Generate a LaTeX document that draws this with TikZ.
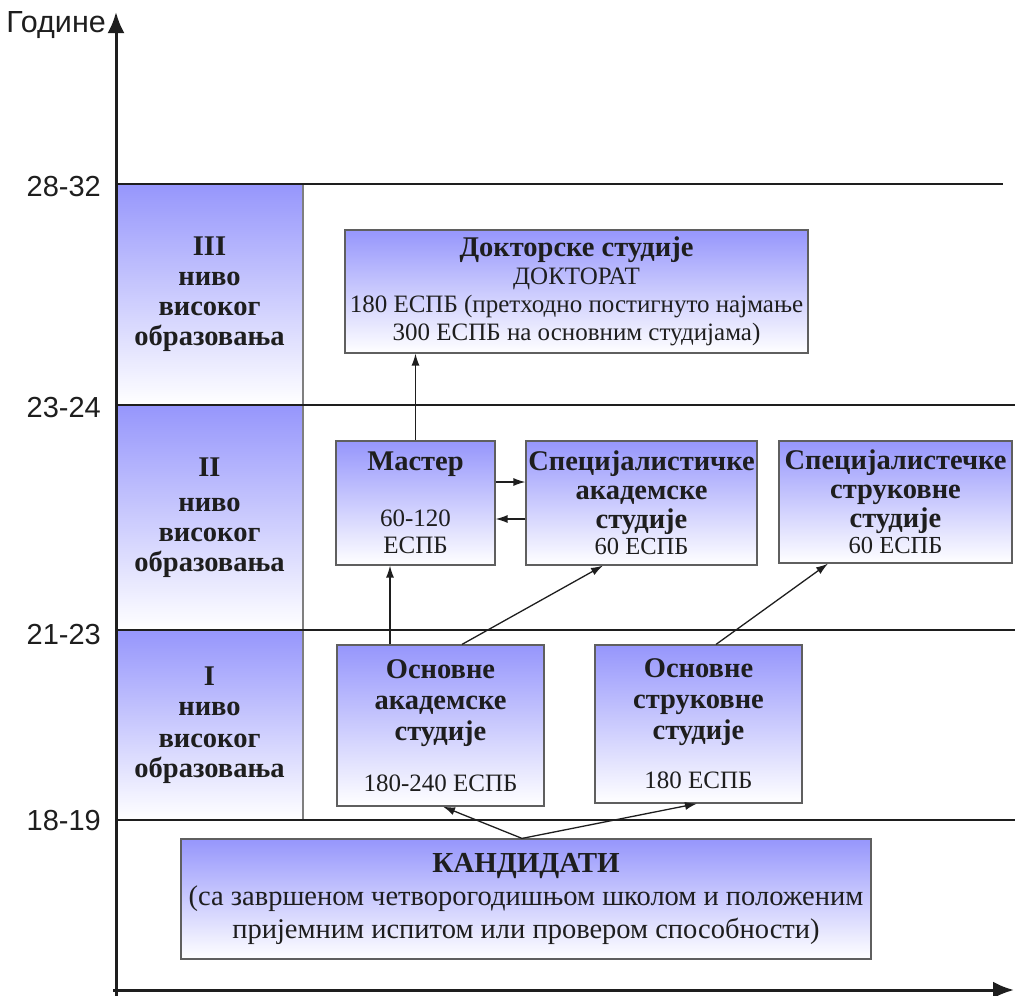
\documentclass[tikz,border=0pt]{standalone}
\usepackage{fontspec}
\setmainfont{Liberation Serif}
\newfontfamily\lsans{Liberation Sans}
\usetikzlibrary{arrows.meta,calc}
\definecolor{topblue}{RGB}{150,150,252}
\definecolor{ink}{RGB}{30,30,30}
\definecolor{edge}{RGB}{95,95,95}
\newcommand\hb[1]{{\fontsize{28.5}{28}\selectfont\bfseries #1}}
\newcommand\fz[2]{\fontsize{#1}{#2}\selectfont\lineskiplimit=-60pt\relax}
\tikzset{
  grad/.style={draw=edge, line width=1.2pt, top color=topblue, bottom color=white, inner sep=0pt, align=center, text=ink},
  lvl/.style={grad, draw=edge!80, minimum width=187pt, font=\fz{28.5}{30}\bfseries},
  sbox/.style={grad},
  arr/.style={-{Latex[length=12pt,width=8pt]}, line width=1.3pt, draw=ink},
  axis/.style={-{Latex[length=21pt,width=17pt]}, line width=3pt, draw=ink},
  hline/.style={line width=2pt, draw=ink},
  agelab/.style={font=\lsans\fontsize{29}{30}\selectfont, text=ink, inner sep=0pt}
}
\begin{document}
\begin{tikzpicture}[x=1pt,y=-1pt]
\useasboundingbox (0,0) rectangle (1015,996);
% level boxes
\node[lvl, minimum height=221pt] (l3) at (209.5,294.5) {III\\ниво\\високог\\образовања};
\node[lvl, minimum height=225pt] (l2) at (209.5,517.5) {II\\[5pt]ниво\\високог\\образовања};
\node[lvl, minimum height=190pt] (l1) at (209.5,725) {I\\ниво\\[2pt]високог\\образовања};
% horizontal lines
\draw[hline] (116,184) -- (1003,184);
\draw[hline] (116,405) -- (1015,405);
\draw[hline] (116,630) -- (1015,630);
\draw[hline] (116,820) -- (1015,820);
% age labels
\node[agelab, anchor=east] (a1) at (101,187) {28-32};
\node[agelab, anchor=east] (a2) at (101,408) {23-24};
\node[agelab, anchor=east] (a3) at (101,635) {21-23};
\node[agelab, anchor=east] (a4) at (101,821) {18-19};
\node[agelab, anchor=east, font=\lsans\fontsize{30.5}{31}\selectfont] (god) at (106,25) {Године};
% axes
\draw[axis] (116,998) -- (116,12);
\draw[axis] (113,990) -- (1014,990);
% study boxes
\node[sbox, minimum width=463pt, minimum height=123pt, font=\fz{25}{28}] (dok) at (576.5,291.5)
  {\hb{Докторске студије}\\ДОКТОРАТ\\180 ЕСПБ (претходно постигнуто најмање\\300 ЕСПБ на основним студијама)};
\node[sbox, minimum width=159pt, minimum height=124pt, font=\fz{25}{27}] (mas) at (415.5,503)
  {\hb{Мастер}\\[29pt]60-120\\ЕСПБ};
\node[sbox, minimum width=231pt, minimum height=124pt, font=\fz{24.5}{29}] (sa) at (641.5,503)
  {\hb{Специјалистичке}\\\hb{академске}\\\hb{студије}\\[-3pt]60 ЕСПБ};
\node[sbox, minimum width=233pt, minimum height=122pt, font=\fz{24.5}{29}] (ss) at (895.5,502)
  {\hb{Специјалистечке}\\\hb{струковне}\\\hb{студије}\\[-3pt]60 ЕСПБ};
\node[sbox, minimum width=207pt, minimum height=161pt, font=\fz{25}{31}] (oa) at (440.5,725.5)
  {\hb{Основне}\\\hb{академске}\\\hb{студије}\\[20pt]180-240 ЕСПБ};
\node[sbox, minimum width=207pt, minimum height=158pt, font=\fz{25}{31}] (os) at (698.5,724)
  {\hb{Основне}\\\hb{струковне}\\\hb{студије}\\[18pt]180 ЕСПБ};
\node[sbox, minimum width=690pt, minimum height=120pt, font=\fz{28.5}{33}] (kand) at (526,899)
  {{\fontsize{29}{33}\selectfont\bfseries КАНДИДАТИ}\\(са завршеном четворогодишњом школом и положеним\\пријемним испитом или провером способности)};
% connectors
\draw[arr] (mas.north) -- (mas.north |- dok.south);
\draw[arr] (mas.east |- 0,482) -- (sa.west |- 0,482);
\draw[arr] (sa.west |- 0,519) -- (mas.east |- 0,519);
\draw[arr] (oa.north -| 390,0) -- (mas.south -| 390,0);
\draw[arr] (oa.north -| 462,0) -- (sa.south -| 603,0);
\draw[arr] (os.north -| 716,0) -- (ss.south -| 828,0);
\draw[arr] (kand.north -| 522,0) -- (oa.south -| 443,0);
\draw[arr] (kand.north -| 522,0) -- (os.south -| 697,0);
\end{tikzpicture}
\end{document}
